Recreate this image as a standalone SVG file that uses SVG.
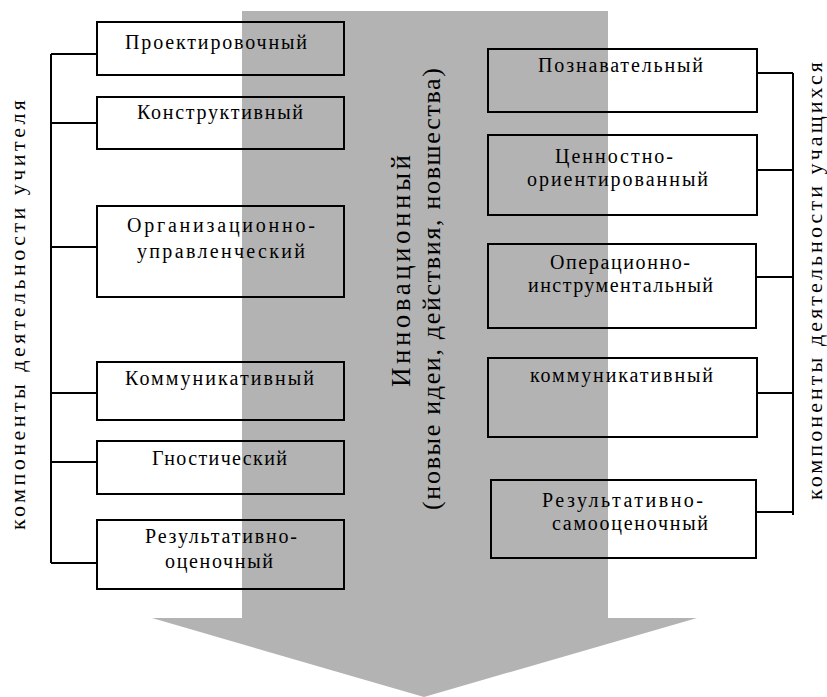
<svg xmlns="http://www.w3.org/2000/svg" width="827" height="697" viewBox="0 0 827 697">
<style>
.box{fill:none;stroke:#000;stroke-width:2}
.t{font-size:20px;text-anchor:middle;fill:#000}
.v{font-size:22px;text-anchor:middle;fill:#000}
.c{font-size:26px;text-anchor:middle;fill:#000}
.ln{fill:none;stroke:#000;stroke-width:2}
</style>
<rect width="827" height="697" fill="#fff"/>
<g id="arrow">
<polygon points="242,11 608,11 608,618 697,618 424,697 152,618 242,618" fill="#b3b3b3"/>
</g>
<g id="connectors">
<path class="ln" d="M51,54 V563 M51,54 H97 M51,123 H97 M51,247 H97 M51,393 H97 M51,462 H97 M51,563 H97"/>
<path class="ln" d="M793,73 V515 M757,73 H793 M757,170 H793 M756,277 H793 M757,393 H793 M756,512 H793"/>
</g>
<g font-family="Liberation Serif, Times New Roman, Noto Serif, serif">
<g id="n1"><rect class="box" x="97" y="22" width="247" height="53"/><text class="t" x="216" y="49" textLength="182" lengthAdjust="spacing">Проектировочный</text></g>
<g id="n2"><rect class="box" x="97" y="97" width="247" height="52"/><text class="t" x="220" y="119" textLength="166" lengthAdjust="spacing">Конструктивный</text></g>
<g id="n3"><rect class="box" x="97" y="206" width="247" height="91"/><text class="t" x="221" y="232" textLength="188" lengthAdjust="spacing">Организационно-</text><text class="t" x="221" y="258" textLength="168" lengthAdjust="spacing">управленческий</text></g>
<g id="n4"><rect class="box" x="97" y="362" width="247" height="58"/><text class="t" x="219.5" y="385" textLength="189" lengthAdjust="spacing">Коммуникативный</text></g>
<g id="n5"><rect class="box" x="97" y="441" width="247" height="53"/><text class="t" x="219.5" y="465" textLength="135" lengthAdjust="spacing">Гностический</text></g>
<g id="n6"><rect class="box" x="97" y="520" width="247" height="69"/><text class="t" x="221" y="543" textLength="152" lengthAdjust="spacing">Результативно-</text><text class="t" x="219" y="568" textLength="108" lengthAdjust="spacing">оценочный</text></g>
<g id="n7"><rect class="box" x="488" y="49" width="269" height="63"/><text class="t" x="620.5" y="72" textLength="165" lengthAdjust="spacing">Познавательный</text></g>
<g id="n8"><rect class="box" x="488" y="135" width="269" height="80"/><text class="t" x="614" y="163" textLength="118" lengthAdjust="spacing">Ценностно-</text><text class="t" x="617.5" y="186" textLength="181" lengthAdjust="spacing">ориентированный</text></g>
<g id="n9"><rect class="box" x="488" y="244" width="268" height="84"/><text class="t" x="620" y="269" textLength="140" lengthAdjust="spacing">Операционно-</text><text class="t" x="620.5" y="292" textLength="185" lengthAdjust="spacing">инструментальный</text></g>
<g id="n10"><rect class="box" x="488" y="358" width="269" height="79"/><text class="t" x="621.5" y="382" textLength="183" lengthAdjust="spacing">коммуникативный</text></g>
<g id="n11"><rect class="box" x="491" y="480" width="265" height="78"/><text class="t" x="622.5" y="507" textLength="161" lengthAdjust="spacing">Результативно-</text><text class="t" x="630" y="530" textLength="156" lengthAdjust="spacing">самооценочный</text></g>
<g id="labels">
<text class="v" transform="translate(25,315) rotate(-90)" textLength="430" lengthAdjust="spacing">компоненты деятельности учителя</text>
<text class="v" transform="translate(822,281) rotate(-90)" textLength="438" lengthAdjust="spacing">компоненты деятельности учащихся</text>
<text class="c" transform="translate(410,271) rotate(-90)" style="font-size:27px" textLength="232" lengthAdjust="spacing">Инновационный</text>
<text class="c" transform="translate(440,289) rotate(-90)" textLength="442" lengthAdjust="spacing">(новые идеи, действия, новшества)</text>
</g>
</g>
</svg>
